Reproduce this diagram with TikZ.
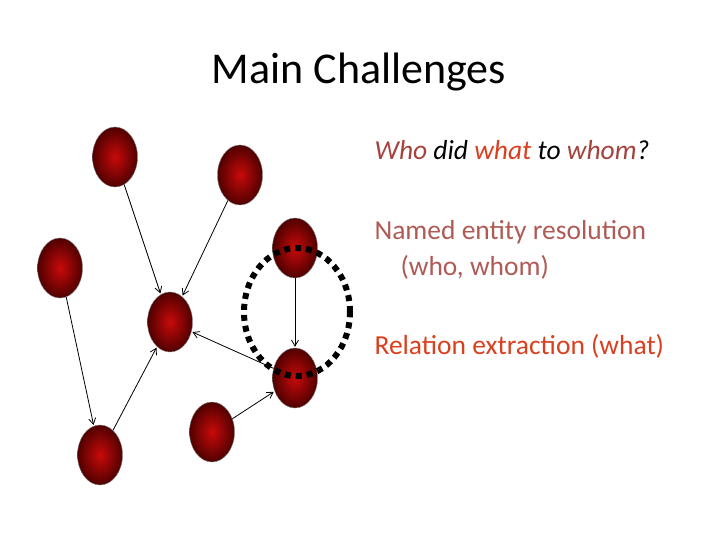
\documentclass[tikz,border=0pt]{standalone}
\usepackage{fontspec}
\setmainfont{Carlito}
\usetikzlibrary{shapes.geometric,arrows.meta}
\definecolor{whoc}{HTML}{A5423C}
\definecolor{whatc}{HTML}{D9401F}
\definecolor{nerc}{HTML}{B05A55}
\definecolor{ballin}{HTML}{C80A0A}
\definecolor{ballout}{HTML}{500000}
\tikzset{ent/.style={ellipse,minimum width=45pt,minimum height=60pt,inner sep=0pt,draw=black!50,line width=0.4pt,inner color=ballin,outer color=ballout},
arr/.style={-{Straight Barb[length=6pt,width=7pt]},line width=0.8pt,shorten >=1pt}}
\begin{document}
\begin{tikzpicture}[x=1pt,y=-1pt]
\useasboundingbox (0,0) rectangle (720,540);
\node (title) at (359,72) {\fontsize{44}{48}\selectfont Main Challenges};
\node[ent] (A) at (115,157) {};
\node[ent] (B) at (240,175) {};
\node[ent] (C) at (60,268) {};
\node[ent] (D) at (295,248) {};
\node[ent] (E) at (170,322) {};
\node[ent] (F) at (295,378) {};
\node[ent] (G) at (100,455) {};
\node[ent] (H) at (212,432) {};
\draw[arr] (A) -- (E);
\draw[arr] (B) -- (E);
\draw[arr] (C) -- (G);
\draw[arr] (G) -- (E);
\draw[arr] (D) -- (F);
\draw[arr] (F) -- (E);
\draw[arr] (H) -- (F);
\node[ellipse,draw,line width=6pt,dash pattern=on 6pt off 5pt,minimum width=106pt,minimum height=128pt] (ring) at (297,312) {};
\node[anchor=west,font=\fontsize{27.5}{32}\selectfont\itshape] (q) at (371,150) {\textcolor{whoc}{Who} did \textcolor{whatc}{what} to \textcolor{whoc}{whom}?};
\node[anchor=west,font=\fontsize{27.5}{32}\selectfont,text=nerc] (n1) at (371,232) {Named entity resolution};
\node[anchor=west,font=\fontsize{27.5}{32}\selectfont,text=nerc] (n2) at (397,267) {(who, whom)};
\node[anchor=west,font=\fontsize{27.5}{32}\selectfont,text=whatc] (r) at (371,346) {Relation extraction (what)};
\end{tikzpicture}
\end{document}
